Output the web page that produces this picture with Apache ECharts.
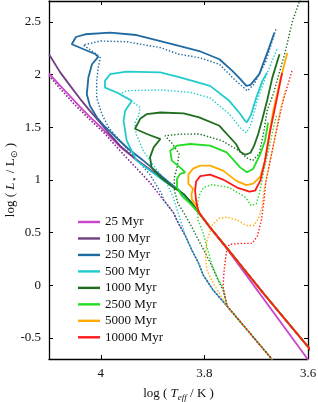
<!DOCTYPE html>
<html><head><meta charset="utf-8">
<script src="https://cdn.jsdelivr.net/npm/echarts@6/dist/echarts.min.js"></script>
<style>html,body{margin:0;padding:0;background:#fff}#c{width:318px;height:402px}</style>
</head><body><div id="c"></div>
<script>
// ---- data: [log Teff, log L] ----
const ages = ['25 Myr','100 Myr','250 Myr','500 Myr','1000 Myr','2500 Myr','5000 Myr','10000 Myr'];
const xTicks = [3.6, 3.8, 4.0];
const yTicks = [-0.5, 0, 0.5, 1, 1.5, 2, 2.5];

// shared main-sequence tails
const msSolid = [[3.849,0.900],[3.827,0.795],[3.808,0.672],[3.789,0.549],[3.764,0.398],[3.683,-0.095],[3.600,-0.584],[3.594,-0.62]];
const msDotted = [[4.100,1.993],[4.079,1.870],[4.050,1.714],[4.021,1.572],[3.992,1.439],[3.963,1.278],[3.934,1.127],[3.905,0.975],[3.878,0.805],[3.860,0.691],[3.851,0.597],[3.837,0.473],[3.824,0.331],[3.812,0.218],[3.802,0.095],[3.783,-0.047],[3.756,-0.199],[3.717,-0.426],[3.673,-0.682],[3.667,-0.729]];

// solid isochrones (upper parts)
const solid25 = [[4.100,2.010],[4.079,1.899],[4.059,1.794],[4.040,1.695],[4.021,1.600],[4.001,1.506],[3.982,1.411],[3.963,1.316],[3.934,1.203],[3.905,1.098],[3.876,0.994],[3.849,0.900],[3.827,0.795],[3.808,0.672],[3.789,0.549],[3.764,0.398],[3.604,-0.679],[3.598,-0.72]];
const solid100 = [[4.100,2.194],[4.079,2.027],[4.059,1.894],[4.040,1.771],[4.021,1.657],[4.001,1.544],[3.982,1.430],[3.963,1.326],[3.934,1.203],[3.905,1.098],[3.876,0.994]];
const solid250 = [[3.665,2.399],[3.675,2.257],[3.694,2.005],[3.711,1.903],[3.719,1.894],[3.731,1.960],[3.746,2.036],[3.771,2.147],[3.810,2.225],[3.849,2.273],[3.885,2.320],[3.931,2.377],[3.982,2.399],[4.030,2.384],[4.048,2.358],[4.056,2.289],[4.010,2.194],[4.005,2.169],[4.017,2.099],[4.024,1.973],[4.027,1.815],[4.021,1.705],[4.007,1.591],[3.992,1.506],[3.972,1.411],[3.947,1.297],[3.920,1.193],[3.895,1.089],[3.870,0.985]];
const solid500 = [[3.679,2.020],[3.688,1.941],[3.700,1.780],[3.710,1.619],[3.718,1.548],[3.723,1.572],[3.731,1.629],[3.752,1.752],[3.789,1.894],[3.847,1.974],[3.885,2.022],[3.950,2.029],[3.982,2.005],[3.992,1.941],[3.992,1.878],[3.969,1.831],[3.940,1.752],[3.953,1.657],[3.956,1.562],[3.950,1.373],[3.931,1.184],[3.905,1.089],[3.879,0.994]];
const solid1000 = [[3.655,2.194],[3.669,1.970],[3.679,1.752],[3.688,1.581],[3.696,1.439],[3.704,1.326],[3.711,1.259],[3.721,1.240],[3.731,1.269],[3.739,1.342],[3.771,1.515],[3.810,1.594],[3.840,1.632],[3.885,1.641],[3.911,1.626],[3.924,1.581],[3.934,1.487],[3.911,1.437],[3.885,1.389],[3.898,1.310],[3.905,1.215],[3.902,1.120],[3.885,1.026],[3.860,0.931],[3.840,0.868]];
const solid2500 = [[3.677,1.544],[3.683,1.373],[3.692,1.247],[3.706,1.105],[3.718,1.073],[3.731,1.120],[3.757,1.262],[3.789,1.326],[3.827,1.342],[3.853,1.326],[3.866,1.278],[3.863,1.184],[3.847,1.120],[3.837,1.073],[3.847,1.058],[3.853,1.010],[3.853,0.931],[3.844,0.852],[3.827,0.774]];
const solid5000 = [[3.640,2.206],[3.654,1.941],[3.667,1.657],[3.677,1.373],[3.683,1.184],[3.692,1.032],[3.706,0.966],[3.719,0.952],[3.739,0.994],[3.764,1.089],[3.789,1.136],[3.808,1.136],[3.822,1.108],[3.831,1.051],[3.831,0.966],[3.822,0.919],[3.825,0.862],[3.824,0.814],[3.816,0.758]];
const solid10000 = [[3.650,2.017],[3.661,1.752],[3.673,1.468],[3.683,1.184],[3.692,0.994],[3.702,0.900],[3.713,0.890],[3.737,0.928],[3.764,1.004],[3.789,1.051],[3.808,1.037],[3.816,0.985],[3.818,0.900],[3.816,0.805],[3.812,0.710]];

// dotted isochrones (upper parts)
const dotted25 = [];
const dotted100 = [];
const dotted250 = [[3.662,2.431],[3.665,2.415],[3.681,2.131],[3.704,1.910],[3.717,1.847],[3.739,1.941],[3.771,2.099],[3.810,2.162],[3.849,2.194],[3.885,2.257],[3.950,2.313],[4.001,2.320],[4.034,2.282],[4.037,2.273],[4.008,2.194],[4.001,2.162],[4.005,2.067],[4.008,1.941],[4.008,1.783],[3.998,1.626],[3.985,1.499],[3.963,1.373],[3.934,1.212],[3.905,1.051],[3.882,0.862]];
const dotted500 = [[3.660,2.241],[3.681,1.989],[3.698,1.752],[3.711,1.515],[3.719,1.449],[3.729,1.487],[3.752,1.626],[3.789,1.780],[3.827,1.832],[3.885,1.856],[3.924,1.851],[3.950,1.847],[3.963,1.815],[3.937,1.736],[3.924,1.688],[3.927,1.610],[3.934,1.544],[3.932,1.439],[3.918,1.278],[3.895,1.117],[3.872,0.966],[3.860,0.833],[3.851,0.691],[3.841,0.540]];
const dotted1000 = [[3.615,2.718],[3.630,2.509],[3.644,2.216],[3.657,1.989],[3.667,1.818],[3.679,1.657],[3.685,1.468],[3.694,1.250],[3.707,1.184],[3.720,1.215],[3.733,1.278],[3.766,1.373],[3.810,1.437],[3.849,1.435],[3.876,1.420],[3.862,1.345],[3.849,1.250],[3.852,1.136],[3.858,1.023],[3.858,0.900],[3.851,0.776],[3.839,0.682],[3.827,0.578],[3.808,0.398],[3.789,0.218],[3.773,0.047],[3.764,-0.047]];
const dotted2500 = [[3.661,1.610],[3.665,1.534],[3.675,1.307],[3.685,1.089],[3.694,0.871],[3.700,0.774],[3.710,0.758],[3.720,0.833],[3.752,0.928],[3.785,0.956],[3.802,0.928],[3.810,0.852],[3.814,0.739],[3.812,0.615],[3.802,0.492],[3.795,0.360],[3.785,0.189],[3.773,0.047],[3.764,-0.019]];
const dotted5000 = [[3.644,1.847],[3.654,1.657],[3.665,1.373],[3.677,1.089],[3.685,0.900],[3.688,0.758],[3.694,0.653],[3.704,0.568],[3.719,0.568],[3.737,0.620],[3.757,0.647],[3.773,0.634],[3.785,0.568],[3.795,0.426],[3.798,0.284],[3.795,0.142],[3.783,0.019]];
const dotted10000 = [[3.631,2.036],[3.648,1.752],[3.661,1.468],[3.673,1.184],[3.681,0.994],[3.685,0.805],[3.690,0.615],[3.698,0.464],[3.708,0.398],[3.731,0.398],[3.752,0.388],[3.757,0.331],[3.762,0.142],[3.764,-0.019]];

// ---- styling ----
const colors = ['#cc44cc','#6f3f7f','#1f6aa0','#22cccc','#1e6e1e','#22dd22','#ffaa00','#ff1a1a'];
const FONT = 'Liberation Serif';

function withTail(upper, ms){
  if (!upper.length) return ms.slice();
  const last = upper[upper.length-1][0];
  return upper.concat(ms.filter(p => p[0] < last - 0.0005));
}
const solids = [solid25, withTail(solid100,msSolid), withTail(solid250,msSolid), withTail(solid500,msSolid),
  withTail(solid1000,msSolid), withTail(solid2500,msSolid), withTail(solid5000,msSolid), withTail(solid10000,msSolid)];
const dotteds = [dotted25,dotted100,dotted250,dotted500,dotted1000,dotted2500,dotted5000,dotted10000].map(d => withTail(d, msDotted));

const series = [];
dotteds.forEach((d,i) => series.push({
  type:'line', name: ages[i] + ' ', data:d, symbol:'none', showSymbol:false, silent:true, clip:true,
  lineStyle:{color:colors[i], width:1.4, type:[1.4,1.9]}, itemStyle:{color:colors[i]}
}));
solids.forEach((d,i) => series.push({
  type:'line', name: ages[i], data:d, symbol:'none', showSymbol:false, silent:true, clip:true,
  lineStyle:{color:colors[i], width:1.8}, itemStyle:{color:colors[i]}
}));

const axisCommon = {
  type:'value', splitLine:{show:false},
  axisLine:{onZero:false, lineStyle:{color:'#000', width:1.3}},
  axisTick:{inside:true, length:4, lineStyle:{color:'#000', width:1}}
};
const labelStyle = {fontFamily:FONT, fontSize:13, color:'#111'};

const chart = echarts.init(document.getElementById('c'), null, {renderer:'canvas'});
chart.setOption({
  animation:false,
  backgroundColor:'#fff',
  grid:{left:49, right:10, top:1, bottom:43, containLabel:false, outerBoundsMode:'none'},
  legend:{
    data: ages, orient:'vertical', left:73, top:210, itemWidth:22, itemHeight:2.4, itemGap:2.47,
    icon:'rect', selectedMode:false,
    textStyle:Object.assign({padding:[0,0,0,0], lineHeight:14, height:14}, labelStyle)
  },
  xAxis:[
    Object.assign({}, axisCommon, {min:3.6, max:4.1, inverse:true, position:'bottom',
      axisTick:Object.assign({}, axisCommon.axisTick, {customValues:xTicks}),
      axisLabel:Object.assign({margin:8, customValues:xTicks}, labelStyle),
      name:'log ( {it|T}{sub|eff} / K )', nameLocation:'middle', nameGap:27, nameMoveOverlap:false,
      nameTextStyle:Object.assign({rich:{
        it:{fontFamily:FONT, fontSize:13, fontStyle:'italic', color:'#111'},
        sub:{fontFamily:FONT, fontSize:9, fontStyle:'italic', color:'#111', padding:[7,0,0,0]}
      }}, labelStyle)}),
    Object.assign({}, axisCommon, {min:3.6, max:4.1, inverse:true, position:'top',
      axisTick:Object.assign({}, axisCommon.axisTick, {customValues:xTicks}),
      axisLabel:{show:false}})
  ],
  yAxis:[
    Object.assign({}, axisCommon, {min:-0.7, max:2.7, position:'left',
      axisTick:Object.assign({}, axisCommon.axisTick, {customValues:yTicks}),
      axisLabel:Object.assign({margin:8, customValues:yTicks}, labelStyle),
      name:'log ( {it|L}{sub|⋆} / L{sub|⊙} )', nameLocation:'middle', nameGap:30, nameMoveOverlap:false,
      nameTextStyle:Object.assign({rich:{
        it:{fontFamily:FONT, fontSize:13, fontStyle:'italic', color:'#111'},
        sub:{fontFamily:FONT, fontSize:9, color:'#111', padding:[7,0,0,0]}
      }}, labelStyle)}),
    Object.assign({}, axisCommon, {min:-0.7, max:2.7, position:'right',
      axisTick:Object.assign({}, axisCommon.axisTick, {customValues:yTicks}),
      axisLabel:{show:false}})
  ],
  series: series
});
</script></body></html>
